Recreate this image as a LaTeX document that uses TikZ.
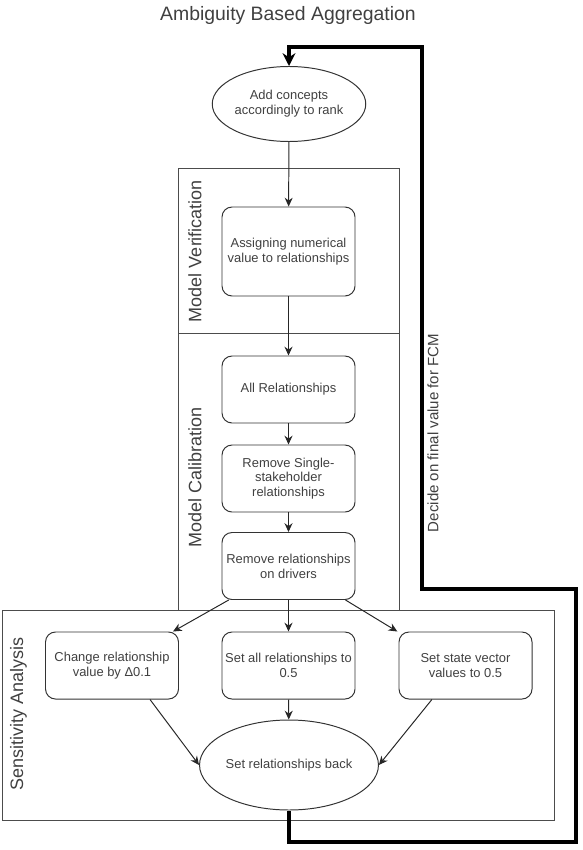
\documentclass[tikz,border=0pt]{standalone}
\usepackage{fontspec}
\setmainfont{Liberation Sans}
\usetikzlibrary{shapes.geometric}
\usetikzlibrary{arrows.meta}

\begin{document}
\begin{tikzpicture}
            \tikzstyle{process box} = [draw=black!80, line width=0.7pt, rounded corners=0.25cm, minimum width=3.325cm, minimum height=1.675cm, align=center, inner xsep=0pt, text=black!75, font=\fontsize{9.2}{10.5}\selectfont]
            \tikzstyle{round box} = [ellipse, draw=black!80, line width=0.7pt, align=center, inner sep=0pt, text=black!75, font=\fontsize{9.2}{10.5}\selectfont]
            \tikzstyle{lane} = [draw=black!70, line width=0.7pt]
            \tikzstyle{lane label} = [rotate=90, text=black!75, font=\fontsize{12.8}{14}\selectfont]
            \tikzstyle{flow} = [draw=black!85, line width=0.7pt, -{Stealth[length=2.2mm, width=2mm]}]
            \tikzstyle{feedback} = [draw=black, line width=2.3pt, -{Stealth[length=3.2mm, width=3.2mm]}]
            
            \useasboundingbox (0, 0) rectangle (14.55, -21.25);
            
            % swim lanes
            \draw[lane] (4.45, -4.2) rectangle (9.975, -8.325);
            \draw[lane] (4.45, -8.325) rectangle (9.975, -15.25);
            \draw[lane] (0.05, -15.25) rectangle (13.85, -20.5);
            \node[lane label] (verlabel) at (4.875, -6.275) {Model Verification};
            \node[lane label] (callabel) at (4.875, -11.925) {Model Calibration};
            \node[lane label] (senlabel) at (0.46, -17.85) {Sensitivity Analysis};
            
            \node[anchor=base, text=black!75, font=\fontsize{13.8}{16}\selectfont] (title) at (7.2, -0.525) {Ambiguity Based Aggregation};
            
            \node[round box, minimum width=3.35cm, minimum height=1.875cm] (add) at (7.225, -2.6) {Add concepts\\accordingly to rank};
            \node[process box, minimum height=2.225cm] (asg) at (7.2125, -6.2875) {Assigning numerical\\value to relationships};
            \node[process box] (all) at (7.2125, -9.7375) {All Relationships};
            \node[process box] (single) at (7.2125, -11.9625) {Remove Single-\\stakeholder\\relationships};
            \node[process box] (drv) at (7.2125, -14.15) {Remove relationships\\on drivers};
            \node[process box] (chg) at (2.8, -16.6375) {Change relationship\\value by Δ0.1};
            \node[process box] (setall) at (7.2125, -16.6375) {Set all relationships to\\0.5};
            \node[process box] (state) at (11.6375, -16.6375) {Set state vector\\values to 0.5};
            \node[round box, minimum width=3.3cm, minimum height=2.25cm] (back) at (7.225, -19.125) {Set relationships back};
            
            \draw[flow] (add) -- (asg);
            \draw[flow] (asg) -- (all);
            \draw[flow] (all) -- (single);
            \draw[flow] (single) -- (drv);
            \draw[flow] ([xshift=0.18cm]drv.south west) -- ([xshift=-0.15cm]chg.north east);
            \draw[flow] (drv) -- (setall);
            \draw[flow] ([xshift=-0.25cm]drv.south east) -- ([xshift=-0.03cm]state.north west);
            \draw[flow] ([xshift=0.95cm]chg.south) -- (back.west);
            \draw[flow] (setall) -- (back);
            \draw[flow] ([xshift=-0.84cm]state.south) -- (back.east);
            
            % loop back to the top
            \coordinate (lp1) at (14.4, -21.05);
            \coordinate (lp2) at (14.4, -14.725);
            \coordinate (lp3) at (10.55, -1.175);
            \draw[feedback] (back.south) |- (lp1) -- (lp2) -| (lp3) -| (add.north);
            \node[rotate=90, text=black!75, font=\fontsize{10.7}{12}\selectfont] (decide) at (10.825, -10.825) {Decide on final value for FCM};
        \end{tikzpicture}
\end{document}
